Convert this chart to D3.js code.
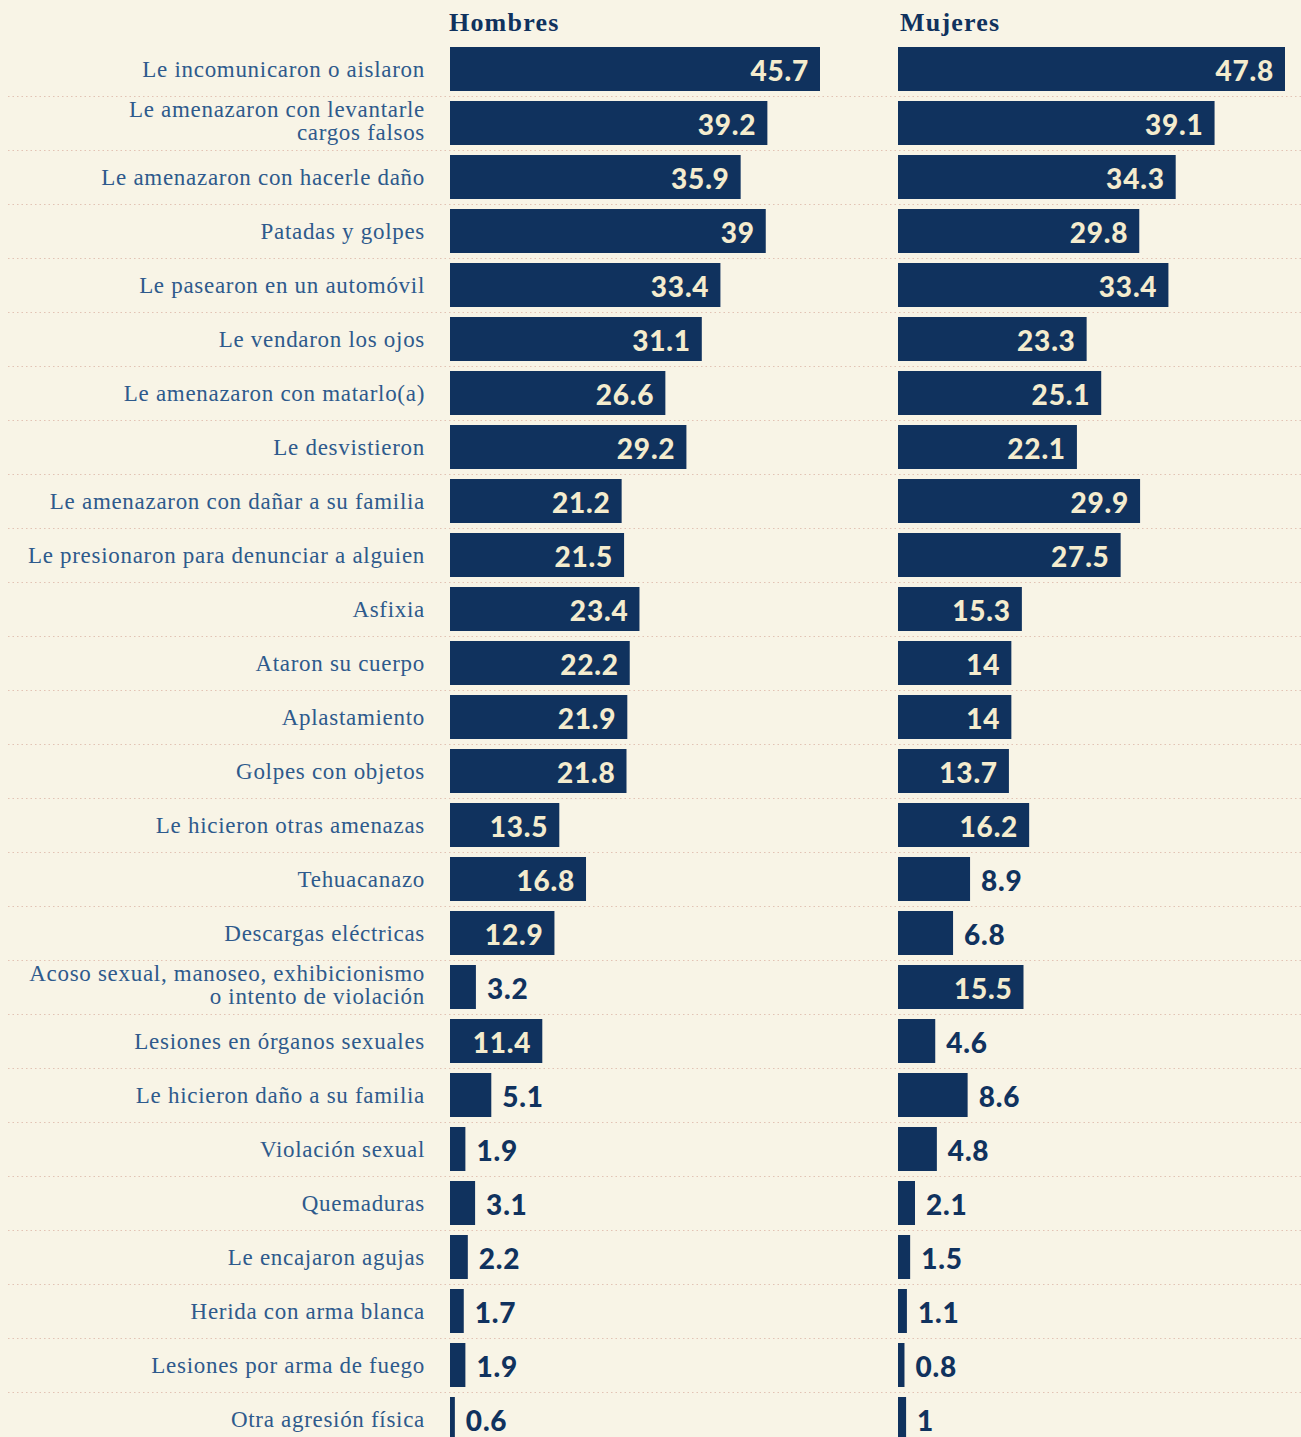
<!DOCTYPE html>
<html>
<head>
<meta charset="utf-8">
<script src="https://cdn.jsdelivr.net/npm/d3@7"></script>
<style>
  html, body { margin: 0; padding: 0; background: #f8f4e6; }
</style>
</head>
<body>
<div class="res"></div>
<script>
// categories (a "\n" marks a forced line break)
const categories = [
    'Le incomunicaron o aislaron',
    'Le amenazaron con levantarle\ncargos falsos',
    'Le amenazaron con hacerle daño',
    'Patadas y golpes',
    'Le pasearon en un automóvil',
    'Le vendaron los ojos',
    'Le amenazaron con matarlo(a)',
    'Le desvistieron',
    'Le amenazaron con dañar a su familia',
    'Le presionaron para denunciar a alguien',
    'Asfixia',
    'Ataron su cuerpo',
    'Aplastamiento',
    'Golpes con objetos',
    'Le hicieron otras amenazas',
    'Tehuacanazo',
    'Descargas eléctricas',
    'Acoso sexual, manoseo, exhibicionismo\no intento de violación',
    'Lesiones en órganos sexuales',
    'Le hicieron daño a su familia',
    'Violación sexual',
    'Quemaduras',
    'Le encajaron agujas',
    'Herida con arma blanca',
    'Lesiones por arma de fuego',
    'Otra agresión física'
]
const hombres = [45.7, 39.2, 35.9, 39, 33.4, 31.1, 26.6, 29.2, 21.2, 21.5, 23.4, 22.2, 21.9, 21.8,
    13.5, 16.8, 12.9, 3.2, 11.4, 5.1, 1.9, 3.1, 2.2, 1.7, 1.9, 0.6]
const mujeres = [47.8, 39.1, 34.3, 29.8, 33.4, 23.3, 25.1, 22.1, 29.9, 27.5, 15.3, 14, 14, 13.7,
    16.2, 8.9, 6.8, 15.5, 4.6, 8.6, 4.8, 2.1, 1.5, 1.1, 0.8, 1]
const panels = ['Hombres', 'Mujeres']

const W = 1301, H = 1437
const navy = '#10325e'

const svg = d3.select('div.res')
    .append('svg')
    .attr('width', W)
    .attr('height', H)
    .style('display', 'block')
    .style('background', '#f8f4e6')

// rows: 54px step, 44px bars
const y = d3.scaleBand()
    .domain(categories)
    .range([42, 42 + categories.length * 54])
    .paddingInner(10 / 54)
    .paddingOuter(5 / 54)

// shared value scale for both panels
const x = d3.scaleLinear()
    .domain([0, 47.8])
    .range([0, 387])

// dotted separators
svg.append('g')
    .selectAll('line')
    .data(categories)
    .join('line')
    .attr('x1', 8)
    .attr('x2', W)
    .attr('y1', d => y(d) + y.bandwidth() + 5.5)
    .attr('y2', d => y(d) + y.bandwidth() + 5.5)
    .attr('stroke', '#e2c3b4')
    .attr('stroke-width', 1)
    .attr('stroke-dasharray', '1.5,3')

// category labels
const labels = svg.append('g')
    .selectAll('text')
    .data(categories)
    .join('text')
    .attr('text-anchor', 'end')
    .attr('fill', '#2e5a8c')
    .style('font-family', '"Liberation Serif", "DejaVu Serif", serif')
    .style('font-size', '23px')
    .style('letter-spacing', '0.7px')

labels.each(function (d) {
    const lines = d.split('\n')
    const cy = y(d) + y.bandwidth() / 2
    const t = d3.select(this)
    lines.forEach((l, i) => {
        t.append('tspan')
            .attr('x', 425)
            .attr('y', lines.length == 1 ? cy + 8 : cy - 6 + i * 23)
            .text(l)
    })
})

// panels
const offsets = [450, 898]
const series = [hombres, mujeres]

panels.forEach((name, p) => {
    const g = svg.append('g').attr('transform', `translate(${offsets[p]},0)`)
    const vals = series[p]

    g.append('text')
        .attr('x', p == 0 ? -1 : 2)
        .attr('y', 31)
        .attr('fill', navy)
        .style('font-family', '"Liberation Serif", "DejaVu Serif", serif')
        .style('font-weight', 'bold')
        .style('font-size', '26px')
        .style('letter-spacing', '1.2px')
        .text(name)

    g.selectAll('rect')
        .data(categories)
        .join('rect')
        .attr('x', 0)
        .attr('y', d => y(d))
        .attr('width', (d, i) => x(vals[i]))
        .attr('height', y.bandwidth())
        .attr('fill', navy)

    // value labels: inside the bar when it is long enough
    g.selectAll('text.val')
        .data(categories)
        .join('text')
        .attr('class', 'val')
        .attr('x', (d, i) => vals[i] >= 10 ? x(vals[i]) - 11 : x(vals[i]) + 11)
        .attr('y', d => y(d) + y.bandwidth() / 2 + 12)
        .attr('text-anchor', (d, i) => vals[i] >= 10 ? 'end' : 'start')
        .attr('fill', (d, i) => vals[i] >= 10 ? '#f4ecce' : navy)
        .style('font-family', 'Lato, "Open Sans", sans-serif')
        .style('font-weight', '900')
        .style('font-size', '28px')
        .style('letter-spacing', '0.8px')
        .text((d, i) => vals[i])
})
</script>
</body>
</html>
